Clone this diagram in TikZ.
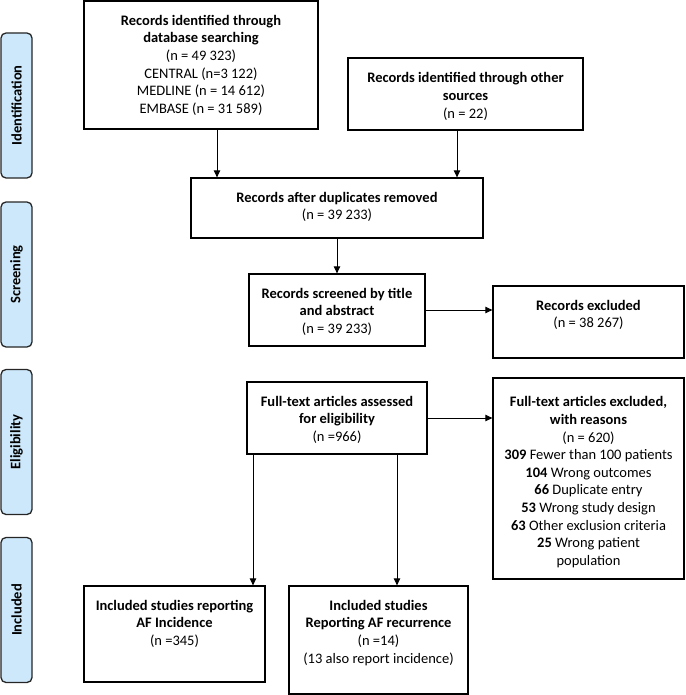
\documentclass[tikz,border=0pt]{standalone}
\usepackage{fontspec}
\setmainfont{Carlito}
\usetikzlibrary{arrows.meta,calc}
\definecolor{sideblue}{RGB}{204,232,250}
\tikzset{
  x=1pt, y=-1pt,
  box/.style={draw=black, line width=1.3pt, fill=white, inner sep=0pt},
  txt/.style={anchor=north, inner sep=0pt, align=center, font=\fontsize{14.5}{17.6}\selectfont},
  side/.style={draw=black!85, line width=1.3pt, fill=sideblue, rounded corners=5pt,
    minimum width=31pt, minimum height=145pt, inner sep=0pt},
  sidetxt/.style={rotate=90, font=\fontsize{14.5}{17}\selectfont\bfseries},
  arr/.style={line width=0.9pt, -{Triangle[length=7pt,width=6.5pt]}},
}
\begin{document}
\begin{tikzpicture}
\useasboundingbox (0,0) rectangle (685,695);

% side bars
\node[side] (sid) at (16.5,105.5) {};
\node[sidetxt] (sidt) at (sid.center) {Identification};
\node[side] (sscr) at (16.5,274.5) {};
\node[sidetxt] (sscrt) at (sscr.center) {Screening};
\node[side] (selg) at (16.5,442) {};
\node[sidetxt] (selgt) at (selg.center) {Eligibility};
\node[side] (sinc) at (16.5,610) {};
\node[sidetxt] (sinct) at (sinc.center) {Included};

% boxes
\node[box, minimum width=234pt, minimum height=128pt] (db) at (201,65) {};
\node[txt] (dbt) at ([yshift=-12.5pt]db.north) {\strut\textbf{Records identified through}\\\textbf{database searching}\\(n = 49 323)\\CENTRAL (n=3 122)\\MEDLINE (n = 14 612)\\EMBASE (n = 31 589)};

\node[box, minimum width=235pt, minimum height=72pt] (other) at (465.5,94) {};
\node[txt] (othert) at ([yshift=-13pt]other.north) {\strut\textbf{Records identified through other}\\\textbf{sources}\\(n = 22)};

\node[box, minimum width=292pt, minimum height=60pt] (dup) at (337,208) {};
\node[txt] (dupt) at ([yshift=-12.5pt]dup.north) {\strut\textbf{Records after duplicates removed}\\(n = 39 233)};

\node[box, minimum width=176pt, minimum height=72pt] (scr) at (337,310) {};
\node[txt] (scrt) at ([yshift=-12.5pt]scr.north) {\strut\textbf{Records screened by title}\\\textbf{and abstract}\\(n = 39 233)};

\node[box, minimum width=191pt, minimum height=72pt] (recex) at (588.5,322) {};
\node[txt] (recext) at ([yshift=-12.5pt]recex.north) {\strut\textbf{Records excluded}\\(n = 38 267)};

\node[box, minimum width=180pt, minimum height=72pt] (ass) at (337,418) {};
\node[txt] (asst) at ([yshift=-12.5pt]ass.north) {\strut\textbf{Full-text articles assessed}\\\textbf{for eligibility}\\(n =966)};

\node[box, minimum width=191pt, minimum height=201pt] (ftex) at (588.5,478.5) {};
\node[txt] (ftext) at ([yshift=-17pt]ftex.north) {\strut\textbf{Full-text articles excluded,}\\\textbf{with reasons}\\(n = 620)\\\textbf{309} Fewer than 100 patients\\\textbf{104} Wrong outcomes\\\textbf{66} Duplicate entry\\\textbf{53} Wrong study design\\\textbf{63} Other exclusion criteria\\\textbf{25} Wrong patient\\population};

\node[box, minimum width=181pt, minimum height=96pt] (inc1) at (174.5,634) {};
\node[txt] (inc1t) at ([yshift=-12.5pt]inc1.north) {\strut\textbf{Included studies reporting}\\\textbf{AF Incidence}\\(n =345)};

\node[box, minimum width=179pt, minimum height=108pt] (inc2) at (378.5,640) {};
\node[txt] (inc2t) at ([yshift=-12.5pt]inc2.north) {\strut\textbf{Included studies}\\\textbf{Reporting AF recurrence}\\(n =14)\\(13 also report incidence)};

% arrows
\coordinate (c1) at (217,0);
\coordinate (c2) at (457,0);
\coordinate (c3) at (253,0);
\coordinate (c4) at (397,0);
\draw[arr] (c1 |- db.south) -- (c1 |- dup.north);
\draw[arr] (c2 |- other.south) -- (c2 |- dup.north);
\draw[arr] (dup.south) -- (scr.north);
\draw[arr] (scr.east) -- (scr.east -| recex.west);
\draw[arr] (ass.east) -- (ass.east -| ftex.west);
\draw[arr] (c3 |- ass.south) -- (c3 |- inc1.north);
\draw[arr] (c4 |- ass.south) -- (c4 |- inc2.north);
\end{tikzpicture}
\end{document}
